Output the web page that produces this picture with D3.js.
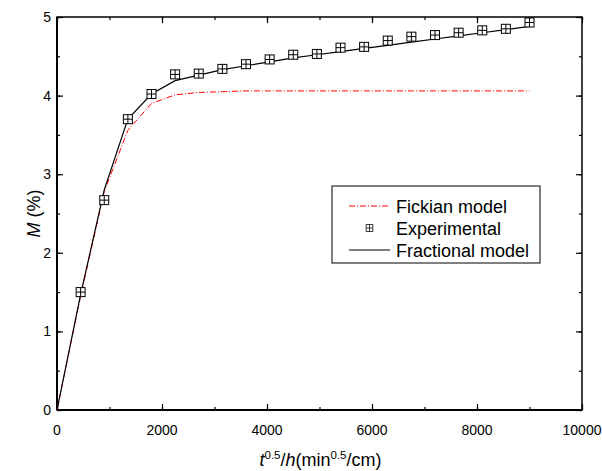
<!DOCTYPE html>
<html>
<head>
<meta charset="utf-8">
<script src="https://cdn.jsdelivr.net/npm/d3@7"></script>
<style>
  body { margin: 0; background: #fff; }
  svg { font-family: "Liberation Sans", Arial, sans-serif; }
</style>
</head>
<body>
<svg id="chart"></svg>
<script>
var width = 602,
    height = 471;

// data
var expX = [450, 900, 1350, 1800, 2250, 2700, 3150, 3600, 4050, 4500,
            4950, 5400, 5850, 6300, 6750, 7200, 7650, 8100, 8550, 9000];
var expY = [1.50, 2.67, 3.70, 4.02, 4.27, 4.28, 4.34, 4.40, 4.46, 4.52,
            4.53, 4.61, 4.62, 4.70, 4.75, 4.77, 4.80, 4.83, 4.85, 4.93];

var modelX = [0, 450, 900, 1350, 1800, 2250, 2700, 3150, 3600, 4050, 4500,
              4950, 5400, 5850, 6300, 6750, 7200, 7650, 8100, 8550, 9000];
var fickY = [0, 1.45, 2.78, 3.56, 3.90, 4.01, 4.04, 4.05, 4.06, 4.06, 4.06,
             4.06, 4.06, 4.06, 4.06, 4.06, 4.06, 4.06, 4.06, 4.06, 4.06];
var fracY = [0, 1.47, 2.80, 3.70, 4.02, 4.19, 4.26, 4.33, 4.38, 4.43, 4.48,
             4.52, 4.56, 4.60, 4.64, 4.68, 4.72, 4.76, 4.80, 4.84, 4.88];

var xTicks = [0, 2000, 4000, 6000, 8000, 10000];
var yTicks = [0, 1, 2, 3, 4, 5];
var legendNames = ["Fickian model", "Experimental", "Fractional model"];

var margin = {left: 57, right: 20, top: 17, bottom: 61};

var svg = d3.select("#chart")
    .attr("width", width)
    .attr("height", height);

var x = d3.scaleLinear()
    .domain([0, 10000])
    .range([margin.left, width - margin.right]);

var y = d3.scaleLinear()
    .domain([0, 5])
    .range([height - margin.bottom, margin.top]);

var x0 = x.range()[0], x1 = x.range()[1];
var y0 = y.range()[0], y1 = y.range()[1];

// ticks: inward on all four sides, minor in between
var minorX = d3.range(0, 10001, 1000);
var minorY = d3.range(0, 5.01, 0.5);

function tickAxis(axis, scale, values, size) {
    return axis(scale).tickValues(values).tickSize(size).tickFormat("").tickSizeOuter(0);
}

svg.append("g").attr("transform", "translate(0," + y0 + ")")
    .call(tickAxis(d3.axisTop, x, minorX, 3));
svg.append("g").attr("transform", "translate(0," + y0 + ")")
    .call(tickAxis(d3.axisTop, x, xTicks, 6));
svg.append("g").attr("transform", "translate(0," + y1 + ")")
    .call(tickAxis(d3.axisBottom, x, minorX, 3));
svg.append("g").attr("transform", "translate(0," + y1 + ")")
    .call(tickAxis(d3.axisBottom, x, xTicks, 6));
svg.append("g").attr("transform", "translate(" + x0 + ",0)")
    .call(tickAxis(d3.axisRight, y, minorY, 3));
svg.append("g").attr("transform", "translate(" + x0 + ",0)")
    .call(tickAxis(d3.axisRight, y, yTicks, 6));
svg.append("g").attr("transform", "translate(" + x1 + ",0)")
    .call(tickAxis(d3.axisLeft, y, minorY, 3));
svg.append("g").attr("transform", "translate(" + x1 + ",0)")
    .call(tickAxis(d3.axisLeft, y, yTicks, 6));

svg.selectAll(".domain").remove();
svg.selectAll(".tick line").attr("stroke", "#000").attr("stroke-width", 1.2);

// tick labels
svg.append("g").selectAll("text")
    .data(xTicks)
    .enter().append("text")
    .attr("x", function(d) { return x(d); })
    .attr("y", y0 + 25)
    .attr("text-anchor", "middle")
    .style("font-size", "14px")
    .text(function(d) { return d; });

svg.append("g").selectAll("text")
    .data(yTicks)
    .enter().append("text")
    .attr("x", x0 - 6)
    .attr("y", function(d) { return y(d) + 5; })
    .attr("text-anchor", "end")
    .style("font-size", "14px")
    .text(function(d) { return d; });

// frame
svg.append("rect")
    .attr("x", x0).attr("y", y1)
    .attr("width", x1 - x0).attr("height", y0 - y1)
    .attr("fill", "none")
    .attr("stroke", "#000")
    .attr("stroke-width", 1.5);
svg.append("line")
    .attr("x1", x0).attr("x2", x0).attr("y1", y1).attr("y2", y0)
    .attr("stroke", "#000").attr("stroke-width", 2);
svg.append("line")
    .attr("x1", x0).attr("x2", x1).attr("y1", y0).attr("y2", y0)
    .attr("stroke", "#000").attr("stroke-width", 2);

// lines
var line = d3.line()
    .x(function(d) { return x(d[0]); })
    .y(function(d) { return y(d[1]); });

svg.append("path")
    .datum(d3.zip(modelX, fickY))
    .attr("d", line)
    .attr("fill", "none")
    .attr("stroke", "#ff0000")
    .attr("stroke-width", 1)
    .attr("stroke-dasharray", "6,2,1,2");

svg.append("path")
    .datum(d3.zip(modelX, fracY))
    .attr("d", line)
    .attr("fill", "none")
    .attr("stroke", "#000")
    .attr("stroke-width", 1.2);

// experimental markers (square with cross)
function marker(g) {
    g.append("rect")
        .attr("x", -4.5).attr("y", -4.5)
        .attr("width", 9).attr("height", 9)
        .attr("fill", "#fff")
        .attr("stroke", "#000")
        .attr("stroke-width", 1);
    g.append("path")
        .attr("d", "M-4.5,0H4.5M0,-4.5V4.5")
        .attr("stroke", "#000")
        .attr("stroke-width", 1);
}

svg.append("g").selectAll("g")
    .data(d3.zip(expX, expY))
    .enter().append("g")
    .attr("transform", function(d) { return "translate(" + x(d[0]) + "," + y(d[1]) + ")"; })
    .each(function() { marker(d3.select(this)); });

// legend
var lg = svg.append("g").attr("transform", "translate(332,186)");
lg.append("rect")
    .attr("width", 208).attr("height", 77)
    .attr("fill", "#fff")
    .attr("stroke", "#000")
    .attr("stroke-width", 1);

var rowY = [20, 42, 64];
lg.append("line")
    .attr("x1", 17).attr("x2", 58).attr("y1", rowY[0]).attr("y2", rowY[0])
    .attr("stroke", "#ff0000").attr("stroke-width", 1)
    .attr("stroke-dasharray", "6,2,1,2");
lg.append("g")
    .attr("transform", "translate(37.5," + rowY[1] + ") scale(0.75)")
    .call(marker);
lg.append("line")
    .attr("x1", 17).attr("x2", 58).attr("y1", rowY[2]).attr("y2", rowY[2])
    .attr("stroke", "#000").attr("stroke-width", 1.2);

lg.selectAll("text.name")
    .data(legendNames)
    .enter().append("text")
    .attr("class", "name")
    .attr("x", 64)
    .attr("y", function(d, i) { return rowY[i] + 6.5; })
    .style("font-size", "18px")
    .text(function(d) { return d; });

// axis titles
var xt = svg.append("text")
    .attr("x", (x0 + x1) / 2 + 1)
    .attr("y", 466)
    .attr("text-anchor", "middle")
    .style("font-size", "18px");
xt.append("tspan").style("font-style", "italic").text("t");
xt.append("tspan").attr("dy", -7).style("font-size", "11.5px").text("0.5");
xt.append("tspan").attr("dy", 7).text("/");
xt.append("tspan").style("font-style", "italic").text("h");
xt.append("tspan").text("(min");
xt.append("tspan").attr("dy", -7).style("font-size", "11.5px").text("0.5");
xt.append("tspan").attr("dy", 7).text("/cm)");

var yt = svg.append("text")
    .attr("transform", "translate(40," + ((y0 + y1) / 2) + ") rotate(-90)")
    .attr("text-anchor", "middle")
    .style("font-size", "18px");
yt.append("tspan").style("font-style", "italic").text("M");
yt.append("tspan").text(" (%)");
</script>
</body>
</html>
